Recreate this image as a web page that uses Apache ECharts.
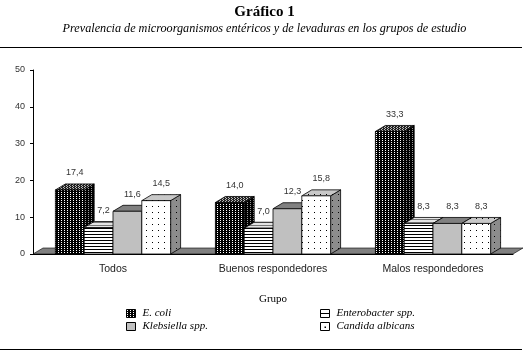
<!DOCTYPE html>
<html><head><meta charset="utf-8">
<script src="https://cdn.jsdelivr.net/npm/echarts@6/dist/echarts.min.js"></script>
<style>html,body{margin:0;padding:0;background:#fff}#c{width:529px;height:356px}</style>
</head><body><div id="c"></div>
<script>
var categories = ['Todos', 'Buenos respondedores', 'Malos respondedores'];
var seriesNames = ['E. coli', 'Enterobacter spp.', 'Klebsiella spp.', 'Candida albicans'];
var ecoli = [17.4, 14.0, 33.3];
var enterobacter = [7.2, 7.0, 8.3];
var klebsiella = [11.6, 12.3, 8.3];
var candida = [14.5, 15.8, 8.3];
var yTicks = [0, 10, 20, 30, 40, 50];

function tile(w, h, bg, fg, pts) {
  var c = document.createElement('canvas'); c.width = w; c.height = h;
  var g = c.getContext('2d'); g.fillStyle = bg; g.fillRect(0, 0, w, h);
  g.fillStyle = fg;
  pts.forEach(function (p) { g.fillRect(p[0], p[1], p[2] || 1, p[3] || 1); });
  return { image: c, repeat: 'repeat' };
}
var faces = [
  { // E. coli
    front: tile(3, 2, '#000', '#fff', [[1, 0]]),
    top: tile(3, 2, '#222', '#bbb', [[1, 0], [0, 1]]),
    side: tile(3, 2, '#000', '#999', [[1, 0]])
  },
  { // Enterobacter
    front: tile(4, 3, '#fff', '#000', [[0, 0, 4, 1]]),
    top: tile(4, 3, '#e4e4e4', '#777', [[0, 0, 4, 1]]),
    side: tile(4, 3, '#999', '#000', [[0, 0, 4, 1]])
  },
  { // Klebsiella
    front: '#c0c0c0', top: '#808080', side: '#606060'
  },
  { // Candida
    front: tile(6, 6, '#fff', '#000', [[2, 2]]),
    top: tile(6, 6, '#c8c8c8', '#000', [[2, 2]]),
    side: tile(6, 6, '#8c8c8c', '#000', [[2, 2]])
  }
];
var DX = 10, DY = 6;
function fmt(v) { return v.toFixed(1).replace('.', ','); }

function makeRender(s) {
  return function (params, api) {
    var cat = api.value(0), val = api.value(1);
    var base = api.coord([cat, 0]);
    var topP = api.coord([cat, val]);
    var band = api.size([1, 0])[0];
    var bw = band * 0.72 / 4;
    var x0 = base[0] - 2 * bw + s * bw, x1 = x0 + bw;
    var yb = base[1], yt = topP[1];
    var f = faces[s];
    var stroke = '#000';
    return {
      type: 'group',
      children: [
        { type: 'polygon', z2: s * 10 + 1, shape: { points: [[x1, yb], [x1 + DX, yb - DY], [x1 + DX, yt - DY], [x1, yt]] },
          style: { fill: f.side, stroke: stroke, lineWidth: 0.8 } },
        { type: 'polygon', z2: s * 10 + 2, shape: { points: [[x0, yt], [x0 + DX, yt - DY], [x1 + DX, yt - DY], [x1, yt]] },
          style: { fill: f.top, stroke: stroke, lineWidth: 0.8 } },
        { type: 'rect', z2: s * 10 + 3, shape: { x: x0, y: yt, width: bw, height: yb - yt },
          style: { fill: f.front, stroke: stroke, lineWidth: 0.8 } },
        { type: 'text', z2: 100, style: { text: fmt(val), x: (x0 + x1) / 2 + DX / 2, y: yt - 17,
          align: 'center', verticalAlign: 'middle', font: '9px "Liberation Sans", Arial, sans-serif', fill: '#333' } }
      ]
    };
  };
}
var valueArrays = [ecoli, enterobacter, klebsiella, candida];
var series = [{
  type: 'custom', name: 'floor', silent: true, z: 1,
  renderItem: function (params, api) {
    var band = api.size([1, 0])[0];
    var a = api.coord([0, 0]), b = api.coord([categories.length - 1, 0]);
    var xl = a[0] - band / 2, xr = b[0] + band / 2, y = a[1];
    return { type: 'polygon', shape: { points: [[xl, y], [xl + DX, y - DY], [xr + DX, y - DY], [xr, y]] },
      style: { fill: '#808080', stroke: '#000', lineWidth: 0.6 } };
  },
  data: [[0, 0]]
}];
valueArrays.forEach(function (arr, s) {
  series.push({
    type: 'custom', name: seriesNames[s], z: 2 + s,
    renderItem: makeRender(s),
    data: arr.map(function (v, i) { return [i, v]; })
  });
});

var legendIcon = [
  function (x, y) { return [{ type: 'rect', shape: { x: x, y: y, width: 9, height: 8 }, style: { fill: faces[0].front, stroke: '#000', lineWidth: 1 } }]; },
  function (x, y) { return [{ type: 'rect', shape: { x: x, y: y, width: 9, height: 8 }, style: { fill: '#fff', stroke: '#000', lineWidth: 1 } },
                            { type: 'line', shape: { x1: x, y1: y + 4, x2: x + 9, y2: y + 4 }, style: { stroke: '#000', lineWidth: 1 } }]; },
  function (x, y) { return [{ type: 'rect', shape: { x: x, y: y, width: 9, height: 8 }, style: { fill: '#c0c0c0', stroke: '#000', lineWidth: 1 } }]; },
  function (x, y) { return [{ type: 'rect', shape: { x: x, y: y, width: 9, height: 8 }, style: { fill: '#fff', stroke: '#000', lineWidth: 1 } },
                            { type: 'rect', shape: { x: x + 4, y: y + 4, width: 1.5, height: 1.5 }, style: { fill: '#000' } }]; }
];
var legendItems = [];
[[0, 126.5, 309.5], [2, 126.5, 322.5], [1, 320.5, 309.5], [3, 320.5, 322.5]].forEach(function (l) {
  legendItems = legendItems.concat(legendIcon[l[0]](l[1], l[2]));
  legendItems.push({ type: 'text', x: l[1] + 16, y: l[2] + 4,
    style: { text: seriesNames[l[0]], verticalAlign: 'middle', font: 'italic 11px "Liberation Serif", "Times New Roman", serif', fill: '#000' } });
});

var chart = echarts.init(document.getElementById('c'), null, { renderer: 'canvas' });
chart.setOption({
  animation: false,
  backgroundColor: '#fff',
  title: {
    text: 'Gráfico 1',
    subtext: 'Prevalencia de microorganismos entéricos y de levaduras en los grupos de estudio',
    left: 'center', top: 0, itemGap: 3,
    textStyle: { fontFamily: '"Liberation Serif", serif', fontWeight: 'bold', fontSize: 15, color: '#000' },
    subtextStyle: { fontFamily: '"Liberation Serif", serif', fontStyle: 'italic', fontSize: 12.2, color: '#000' }
  },
  grid: { left: 33, right: 16, top: 70, bottom: 102 },
  xAxis: {
    type: 'category', data: categories,
    name: 'Grupo', nameLocation: 'middle', nameGap: 40,
    nameTextStyle: { fontFamily: '"Liberation Serif", serif', fontSize: 11, color: '#000' },
    axisLine: { lineStyle: { color: '#000', width: 1 } },
    axisTick: { length: 4, lineStyle: { color: '#000' } },
    axisLabel: { margin: 10, fontFamily: '"Liberation Sans", Arial, sans-serif', fontSize: 10.5, color: '#222' }
  },
  yAxis: {
    type: 'value', min: yTicks[0], max: yTicks[yTicks.length - 1], interval: yTicks[1] - yTicks[0],
    axisLine: { show: true, lineStyle: { color: '#000', width: 1 } },
    axisTick: { show: true, length: 3, lineStyle: { color: '#000' } },
    splitLine: { show: false },
    axisLabel: { margin: 8, fontFamily: '"Liberation Sans", Arial, sans-serif', fontSize: 9, color: '#333' }
  },
  graphic: [
    { type: 'line', shape: { x1: 0, y1: 47.5, x2: 522, y2: 47.5 }, style: { stroke: '#000', lineWidth: 1.2 } },
    { type: 'line', shape: { x1: 0, y1: 349.5, x2: 522, y2: 349.5 }, style: { stroke: '#000', lineWidth: 1.2 } }
  ].concat(legendItems),
  series: series
});
</script></body></html>
